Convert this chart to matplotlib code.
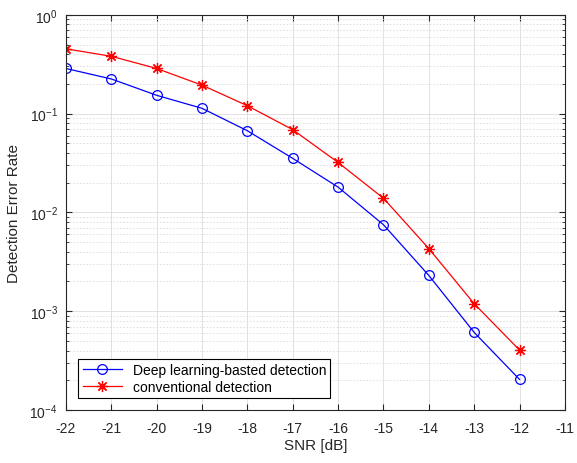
import numpy as np
import matplotlib
matplotlib.use("Agg")
import matplotlib.pyplot as plt
from matplotlib.ticker import LogLocator, NullFormatter

plt.rcParams['font.family'] = ['Liberation Sans', 'DejaVu Sans']
plt.rcParams['axes.unicode_minus'] = False

snr = [-22, -21, -20, -19, -18, -17, -16, -15, -14, -13, -12]
dl_err = [0.286, 0.224, 0.153, 0.113, 0.067, 0.0352, 0.018, 0.0075, 0.0023, 0.00061, 0.000204]
conv_err = [0.452, 0.38, 0.286, 0.194, 0.12, 0.0687, 0.032, 0.0139, 0.0043, 0.00119, 0.000404]
xticks = list(range(-22, -10))

fig = plt.figure(figsize=(5.77, 4.64), dpi=100)
ax = fig.add_axes([0.1144, 0.1142, 0.8646, 0.8518])

ax.semilogy(snr, dl_err, color='blue', lw=0.9, marker='o', markersize=7,
            markerfacecolor='none', markeredgewidth=0.9, label='Deep learning-basted detection')
ax.semilogy(snr, conv_err, color='red', lw=0.9, marker=(8, 2, 0), markersize=8,
            markeredgewidth=0.9, label='conventional detection')

ax.set_xlim(-22, -11)
ax.set_ylim(1e-4, 1)
ax.set_xticks(xticks)
ax.yaxis.set_major_locator(LogLocator(base=10, numticks=10))
ax.yaxis.set_minor_locator(LogLocator(base=10, subs=np.arange(2, 10), numticks=20))
ax.yaxis.set_minor_formatter(NullFormatter())

ax.grid(True, which='major', color='#dcdcdc', lw=0.6)
ax.grid(True, which='minor', axis='y', color='#dcdcdc', lw=0.6, linestyle=(0, (2, 2)))
ax.set_axisbelow(True)

ax.tick_params(which='both', direction='in', top=True, right=True, labelsize=10, colors='#262626')
ax.tick_params(which='major', length=4)
ax.tick_params(which='minor', length=2)
ax.tick_params(axis='x', which='major', pad=8)
ax.tick_params(axis='y', which='major', pad=6)
for s in ax.spines.values():
    s.set_color('#262626')
    s.set_linewidth(0.8)

ax.set_xlabel('SNR [dB]', fontsize=11, color='#262626', labelpad=2)
ax.set_ylabel('Detection Error Rate', fontsize=11, color='#262626', labelpad=6)

leg = ax.legend(loc='lower left', bbox_to_anchor=(0.025, 0.03), fontsize=10, fancybox=False,
                edgecolor='black', framealpha=1, borderpad=0.3, labelspacing=0.2,
                handlelength=2.8, borderaxespad=0)
leg.get_frame().set_linewidth(0.8)

fig.savefig('out.png', dpi=100)
